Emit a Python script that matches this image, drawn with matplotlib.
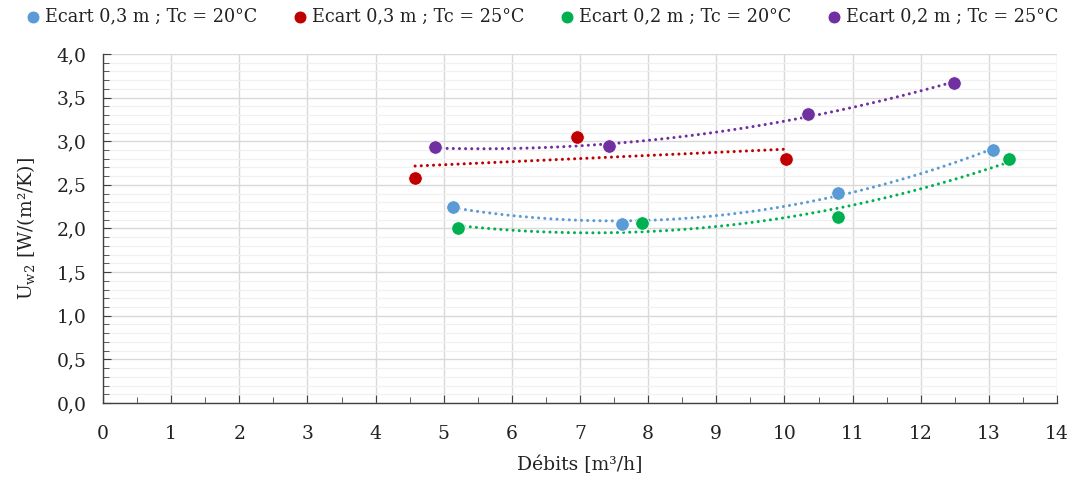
import numpy as np
import matplotlib
matplotlib.use("Agg")
import matplotlib.pyplot as plt
from matplotlib.ticker import MultipleLocator, FuncFormatter

plt.rcParams['font.family'] = 'DejaVu Serif'
plt.rcParams['mathtext.fontset'] = 'dejavuserif'

# data
labels = ["Ecart 0,3 m ; Tc = 20°C", "Ecart 0,3 m ; Tc = 25°C",
          "Ecart 0,2 m ; Tc = 20°C", "Ecart 0,2 m ; Tc = 25°C"]
colors = ["#5B9BD5", "#C00000", "#00B050", "#7030A0"]

x_b = [5.14, 7.61, 10.79, 13.06]
y_b = [2.25, 2.055, 2.41, 2.90]
x_r = [4.58, 6.96, 10.03]
y_r = [2.575, 3.05, 2.80]
x_g = [5.21, 7.91, 10.78, 13.30]
y_g = [2.00, 2.06, 2.13, 2.80]
x_p = [4.87, 7.43, 10.35, 12.49]
y_p = [2.93, 2.945, 3.31, 3.67]

series = [(x_b, y_b, 2), (x_r, y_r, 1), (x_g, y_g, 2), (x_p, y_p, 2)]

fig = plt.figure(figsize=(10.74, 4.79), dpi=100)
ax = fig.add_axes([0.0959, 0.1587, 0.8883, 0.7286])

handles = []
for (xs, ys, deg), c, lab in zip(series, colors, labels):
    # trendline (Excel-like polynomial / linear fit)
    coef = np.polyfit(xs, ys, deg)
    xx = np.linspace(min(xs), max(xs), 200)
    ax.plot(xx, np.polyval(coef, xx), color=c, lw=2.2,
            linestyle=(0, (0.01, 2.0)), dash_capstyle='round', zorder=3)
    h = ax.scatter(xs, ys, s=95, color=c, edgecolors='white', linewidths=0.6,
                   zorder=4, label=lab)
    handles.append(h)

ax.set_xlim(0, 14)
ax.set_ylim(0, 4)
ax.xaxis.set_major_locator(MultipleLocator(1))
ax.xaxis.set_minor_locator(MultipleLocator(0.5))
ax.yaxis.set_major_locator(MultipleLocator(0.5))
ax.yaxis.set_minor_locator(MultipleLocator(0.1))
ax.yaxis.set_major_formatter(FuncFormatter(lambda v, p: f"{v:.1f}".replace(".", ",")))

ax.grid(which='major', color='#d9d9d9', lw=1.0, zorder=0)
ax.grid(which='minor', axis='y', color='#f0f0f0', lw=0.9, zorder=0)
ax.set_axisbelow(True)

for s in ['top', 'right']:
    ax.spines[s].set_visible(False)
for s in ['left', 'bottom']:
    ax.spines[s].set_color('#404040')
    ax.spines[s].set_linewidth(1.0)

ax.tick_params(which='both', direction='in', color='#404040', labelsize=13.5,
               labelcolor='#222222')
ax.tick_params(which='major', length=6)
ax.tick_params(which='minor', length=4)
ax.tick_params(axis='x', pad=16)
ax.tick_params(axis='y', pad=12)

ax.set_xlabel("Débits [m³/h]", fontsize=13.5, color='#222222', labelpad=9)
ax.set_ylabel(r"U$_{\mathrm{w2}}$ [W/(m²/K)]", fontsize=13.5, color='#222222', labelpad=14)

fig.legend(handles=handles, labels=labels, loc='upper center', ncol=4,
           bbox_to_anchor=(0.505, 1.017), frameon=False, fontsize=12.7,
           handlelength=0.8, handletextpad=0.3, columnspacing=2.0,
           markerscale=0.95, labelcolor='#222222')

fig.savefig("out.png", dpi=100)
